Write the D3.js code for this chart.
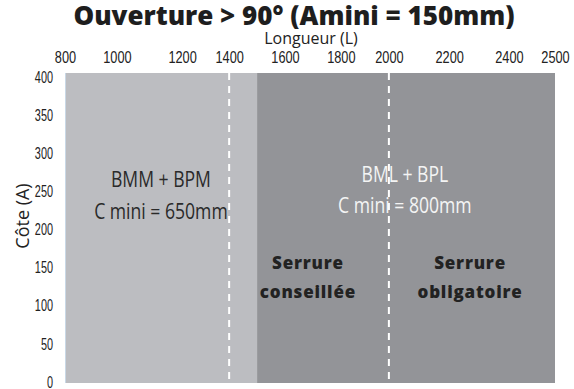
<!DOCTYPE html>
<html>
<head>
<meta charset="utf-8">
<script src="https://cdn.jsdelivr.net/npm/d3@7"></script>
<style>
  body { margin: 0; background: #fff; }
  .tick text { font-family: "Liberation Sans", Arial, sans-serif; fill: #222; }
  .x-axis .tick text { font-size: 17px; }
  .y-axis .tick text { font-size: 16px; }
</style>
</head>
<body>
<svg></svg>
<script>
var width = 574;
var height = 389;

// data
var xTicks = [800, 1000, 1200, 1400, 1600, 1800, 2000, 2200, 2400, 2500];
var yTicks = [0, 50, 100, 150, 200, 250, 300, 350, 400];
var zoneStart = [800, 1500];
var zoneEnd = [1500, 2500];
var dashedAt = [1400, 2000];
var zoneLines = [["BMM + BPM", "C mini = 650mm"], ["BML + BPL", "C mini = 800mm"]];
var zoneLabelL = [1135, 2053];
var zoneLabelA = [[256, 214], [262, 221]];
var lockLines = [["Serrure", "conseillée"], ["Serrure", "obligatoire"]];
var lockL = [1682, 2270];
var lockA = [[148, 110], [148, 110]];

// the source axis is not evenly spaced
var tickFrac = [0, 0.106, 0.239, 0.335, 0.449, 0.563, 0.661, 0.784, 0.906, 1];
var plotLeft = 65, plotRight = 555, plotTop = 73, plotBottom = 383;

var x = d3.scaleLinear()
    .domain(xTicks)
    .range(tickFrac.map(f => plotLeft + f * (plotRight - plotLeft)));
var y = d3.scaleLinear()
    .domain([0, 400])
    .range([382, 77]);

var svg = d3.select("svg")
    .attr("width", width)
    .attr("height", height);

svg.selectAll(".zone")
  .data(zoneStart)
  .enter()
  .append("rect")
    .classed("zone", true)
    .attr("x", d => x(d))
    .attr("y", plotTop)
    .attr("width", (d, i) => x(zoneEnd[i]) - x(d))
    .attr("height", plotBottom - plotTop)
    .attr("fill", (d, i) => i === 0 ? "#bcbdc1" : "#939498");

svg.append("line")
    .attr("x1", plotLeft + 0.5).attr("x2", plotLeft + 0.5)
    .attr("y1", plotTop).attr("y2", plotBottom)
    .attr("stroke", "#c9d8e6")
    .attr("stroke-width", 1);

svg.selectAll(".dash")
  .data(dashedAt)
  .enter()
  .append("line")
    .classed("dash", true)
    .attr("x1", d => x(d)).attr("x2", d => x(d))
    .attr("y1", plotTop).attr("y2", plotBottom)
    .attr("stroke", "#fff")
    .attr("stroke-width", 2)
    .attr("stroke-dasharray", "7,6");

// axes
var xAxis = svg.append("g")
    .classed("x-axis", true)
    .attr("transform", `translate(0, ${plotTop})`)
    .call(d3.axisTop(x).tickValues(xTicks).tickSize(0).tickPadding(10).tickFormat(d3.format("d")));
xAxis.select(".domain").remove();
xAxis.selectAll(".tick text")
    .attr("transform", "scale(0.75, 1)");

var yAxis = svg.append("g")
    .classed("y-axis", true)
    .attr("transform", `translate(${plotLeft}, 0)`)
    .call(d3.axisLeft(y).tickValues(yTicks).tickSize(0).tickPadding(12).tickFormat(d3.format("d")));
yAxis.select(".domain").remove();
yAxis.selectAll(".tick text")
    .attr("x", 0)
    .attr("transform", "translate(-12, 0) scale(0.68, 1)");

// titles
svg.append("text")
    .attr("x", 294)
    .attr("y", 25)
    .style("text-anchor", "middle")
    .style("font-family", "'Open Sans', sans-serif")
    .style("font-weight", "800")
    .style("font-size", "26px")
    .style("fill", "#1e1e1e")
    .text("Ouverture > 90° (Amini = 150mm)");

svg.append("text")
    .attr("x", 311)
    .attr("y", 44)
    .style("text-anchor", "middle")
    .style("font-family", "'Open Sans', sans-serif")
    .style("font-size", "16px")
    .style("fill", "#222")
    .text("Longueur (L)");

svg.append("text")
    .attr("transform", "translate(29, 216) rotate(-90)")
    .style("text-anchor", "middle")
    .style("font-family", "'Open Sans', sans-serif")
    .style("font-size", "18px")
    .style("fill", "#222")
    .text("Côte (A)");

// zone labels
zoneLines.forEach(function(lines, i) {
  lines.forEach(function(line, j) {
    svg.append("text")
        .attr("transform", `translate(${x(zoneLabelL[i])}, ${y(zoneLabelA[i][j])}) scale(0.8, 1)`)
        .style("text-anchor", "middle")
        .style("font-family", "'Open Sans', sans-serif")
        .style("font-size", "22px")
        .style("fill", i === 0 ? "#2a2a2a" : "#f4f4f4")
        .text(line);
  });
});

lockLines.forEach(function(lines, i) {
  lines.forEach(function(line, j) {
    svg.append("text")
        .attr("x", x(lockL[i]))
        .attr("y", y(lockA[i][j]))
        .style("text-anchor", "middle")
        .style("font-family", "'Open Sans', sans-serif")
        .style("font-weight", "800")
        .style("font-size", "17px")
        .style("letter-spacing", "0.8px")
        .style("fill", "#222")
        .text(line);
  });
});
</script>
</body>
</html>
